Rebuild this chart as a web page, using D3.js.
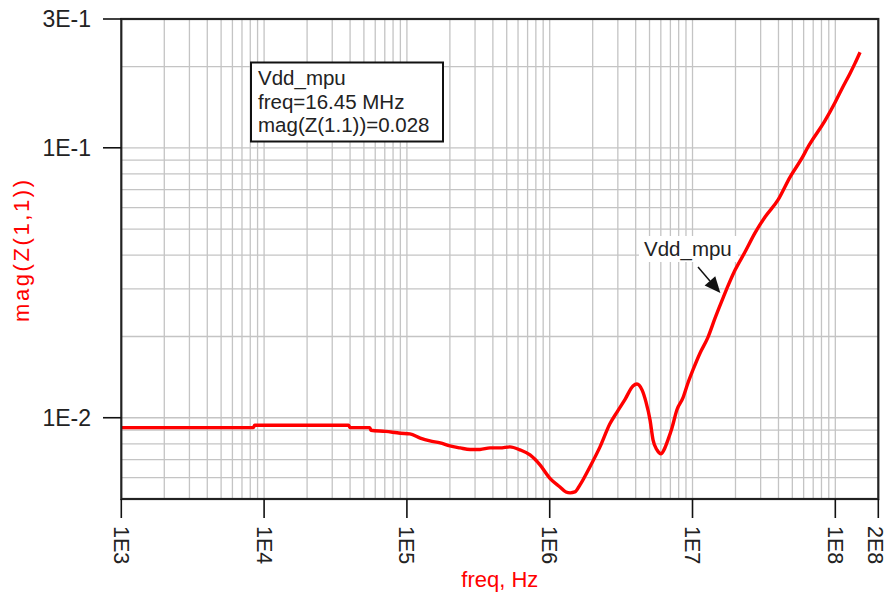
<!DOCTYPE html>
<html>
<head>
<meta charset="utf-8">
<script src="https://cdn.jsdelivr.net/npm/d3@7"></script>
<style>
  html, body { margin: 0; padding: 0; background: #fff; }
  svg { display: block; font-family: "Liberation Sans", Arial, sans-serif; }
</style>
</head>
<body>
<svg id="chart" width="888" height="597"></svg>
<script>
// ---- data ----
const freq = [1e3, 8.4e3, 8.6e3, 3.9e4, 4.0e4, 5.5e4, 5.6e4, 7.1e4, 9.0e4, 1.05e5,
  1.24e5, 1.45e5, 1.71e5, 2.0e5, 2.36e5, 2.77e5, 3.25e5, 3.82e5, 4.49e5, 5.27e5,
  6.2e5, 7.28e5, 8.55e5, 1.0e6, 1.18e6, 1.30e6, 1.39e6, 1.50e6, 1.63e6, 1.91e6,
  2.25e6, 2.64e6, 2.96e6, 3.37e6, 3.83e6, 4.08e6, 4.43e6, 4.72e6, 5.04e6, 5.29e6,
  5.64e6, 6.02e6, 6.31e6, 6.73e6, 7.18e6, 7.78e6, 8.57e6, 9.29e6, 1.007e7, 1.13e7,
  1.28e7, 1.44e7, 1.645e7, 1.99e7, 2.33e7, 2.74e7, 3.22e7, 3.97e7, 4.82e7, 5.85e7,
  6.38e7, 8.53e7, 1.0e8, 1.12e8, 1.27e8, 1.37e8, 1.49e8];
const mag = [0.00919, 0.00919, 0.00938, 0.00938, 0.00919, 0.00919, 0.00899, 0.00890, 0.00876, 0.00871,
  0.00841, 0.00821, 0.00807, 0.00786, 0.00773, 0.00763, 0.00763, 0.00773, 0.00773, 0.00780,
  0.00760, 0.00728, 0.00669, 0.00598, 0.00554, 0.00531, 0.00527, 0.00531, 0.00564, 0.00657,
  0.00780, 0.00950, 0.0105, 0.0117, 0.01312, 0.01334, 0.01268, 0.01145, 0.00982, 0.00828,
  0.00760, 0.00735, 0.00760, 0.00828, 0.00917, 0.0107, 0.01184, 0.01345, 0.01503, 0.01738,
  0.01980, 0.02343, 0.028, 0.0353, 0.0411, 0.0484, 0.0554, 0.0641, 0.0779, 0.0917,
  0.0998, 0.1268, 0.1478, 0.1665, 0.189, 0.205, 0.226];
const xTicks = [1e3, 1e4, 1e5, 1e6, 1e7, 1e8, 2e8];
const xTickLabels = ["1E3", "1E4", "1E5", "1E6", "1E7", "1E8", "2E8"];
const yTicks = [3e-1, 1e-1, 1e-2];
const yTickLabels = ["3E-1", "1E-1", "1E-2"];
const xDomain = [1e3, 2e8];
const yDomain = [5e-3, 3e-1];
const seriesName = "Vdd_mpu";
const markerFreq = 16.45e6;
const markerMag = 0.028;
const markerLines = ["Vdd_mpu", "freq=16.45 MHz", "mag(Z(1.1))=0.028"];
const xTitle = "freq, Hz";
const yTitle = "mag(Z(1,1))";

// ---- layout ----
const svg = d3.select("#chart");
const L = 121.3, T = 19, R = 878.3, B = 499;
const x = d3.scaleLog().domain(xDomain).range([L, R]);
const y = d3.scaleLog().domain(yDomain).range([B, T]);
const red = "#ff0000";

// grid
const gx = [], gy = [];
for (let n = 3; n <= 8; n++) for (let k = 1; k <= 9; k++) {
  const v = k * Math.pow(10, n);
  if (v > xDomain[0] * 1.0001 && v < xDomain[1] * 0.9999) gx.push(v);
}
for (let n = -3; n <= -1; n++) for (let k = 1; k <= 9; k++) {
  const v = k * Math.pow(10, n);
  if (v > yDomain[0] * 1.0001 && v < yDomain[1] * 0.9999) gy.push(v);
}
const grid = svg.append("g").attr("stroke", "#c4c4c4").attr("stroke-width", 1.3);
grid.selectAll("line.gx").data(gx).join("line")
  .attr("x1", d => x(d)).attr("x2", d => x(d)).attr("y1", T).attr("y2", B);
grid.selectAll("line.gy").data(gy).join("line")
  .attr("y1", d => y(d)).attr("y2", d => y(d)).attr("x1", L).attr("x2", R);

const mx = x(markerFreq), my = y(markerMag);

// series label background (hides grid)
svg.append("rect").attr("x", 639).attr("y", 236).attr("width", 99).attr("height", 26).attr("fill", "#fff");

// curve
svg.append("defs").append("clipPath").attr("id", "clip")
  .append("rect").attr("x", L).attr("y", T).attr("width", R - L).attr("height", B - T);
const pts = freq.map((f, i) => [f, mag[i]]);
svg.append("path").datum(pts)
  .attr("clip-path", "url(#clip)")
  .attr("fill", "none").attr("stroke", red).attr("stroke-width", 3.4)
  .attr("stroke-linejoin", "round")
  .attr("d", d3.line().x(d => x(d[0])).y(d => y(d[1])).curve(d3.curveMonotoneX));

// frame
svg.append("rect").attr("x", L).attr("y", T).attr("width", R - L).attr("height", B - T)
  .attr("fill", "none").attr("stroke", "#222").attr("stroke-width", 2.2);

// y ticks
const yAxis = svg.append("g");
yAxis.selectAll("line").data(yTicks).join("line")
  .attr("x1", 103).attr("x2", L).attr("y1", d => y(d)).attr("y2", d => y(d))
  .attr("stroke", "#111").attr("stroke-width", 1.6);
yAxis.selectAll("text").data(yTicks).join("text")
  .attr("x", 91).attr("y", d => y(d)).attr("dy", "0.35em")
  .attr("text-anchor", "end").attr("font-size", 23).attr("fill", "#222")
  .text((d, i) => yTickLabels[i]);

// x ticks
const xAxis = svg.append("g");
xAxis.selectAll("line").data(xTicks).join("line")
  .attr("x1", d => x(d)).attr("x2", d => x(d)).attr("y1", B).attr("y2", 518)
  .attr("stroke", "#111").attr("stroke-width", 1.6);
xAxis.selectAll("text").data(xTicks).join("text")
  .attr("transform", d => `translate(${Math.min(x(d), 876)},526) rotate(90)`)
  .attr("dy", "0.35em").attr("text-anchor", "start")
  .attr("font-size", 21.5).attr("fill", "#222")
  .text((d, i) => xTickLabels[i]);

// axis titles
svg.append("text").attr("x", (L + R) / 2).attr("y", 587)
  .attr("text-anchor", "middle").attr("font-size", 22).attr("fill", red)
  .text(xTitle);
svg.append("text").attr("transform", `translate(29,251) rotate(-90)`)
  .attr("text-anchor", "middle").attr("font-size", 22).attr("fill", red)
  .attr("textLength", 142).attr("lengthAdjust", "spacing")
  .text(yTitle);

// marker readout box
const box = svg.append("g");
box.append("rect").attr("x", 251).attr("y", 62.5).attr("width", 192).attr("height", 79)
  .attr("fill", "#fff").attr("stroke", "#111").attr("stroke-width", 2);
box.selectAll("text").data(markerLines).join("text")
  .attr("x", 258).attr("y", (d, i) => 85 + i * 23.5)
  .attr("font-size", 20.5).attr("fill", "#222")
  .text(d => d);

// series label with arrow
svg.append("text").attr("x", 644).attr("y", 256)
  .attr("font-size", 20.5).attr("fill", "#222").text(seriesName);
const tipX = mx - 3, tipY = my - 4;
const sx = 698, sy = 267;
const ang = Math.atan2(tipY - sy, tipX - sx);
const hl = 16, hw = 7;
const bx = tipX - hl * Math.cos(ang), by = tipY - hl * Math.sin(ang);
svg.append("line").attr("x1", sx).attr("y1", sy).attr("x2", bx).attr("y2", by)
  .attr("stroke", "#111").attr("stroke-width", 1.5);
svg.append("path")
  .attr("d", `M${tipX},${tipY} L${bx + hw * Math.sin(ang)},${by - hw * Math.cos(ang)} L${bx - hw * Math.sin(ang)},${by + hw * Math.cos(ang)} Z`)
  .attr("fill", "#111");
</script>
</body>
</html>
